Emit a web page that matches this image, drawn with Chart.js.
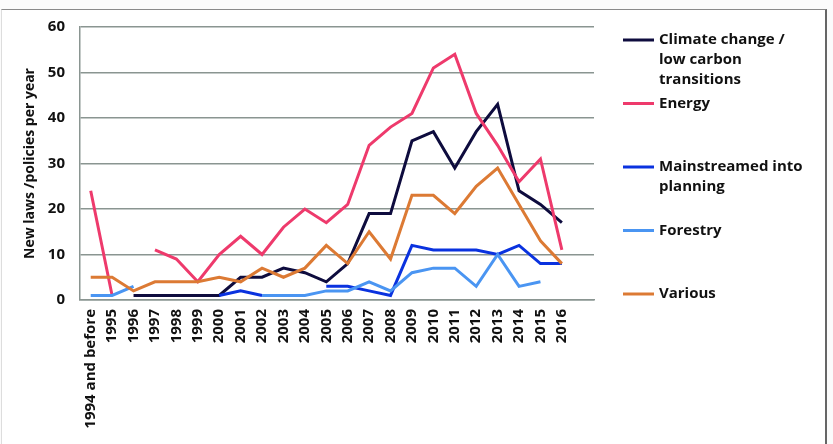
<!DOCTYPE html>
<html>
<head>
<meta charset="utf-8">
<script src="https://cdn.jsdelivr.net/npm/chart.js@4.4.1/dist/chart.umd.min.js"></script>
<style>
  html, body { margin: 0; padding: 0; background: #fbfbfb; }
  #wrap { position: relative; width: 833px; height: 444px; overflow: hidden; }
  #frame {
    position: absolute; left: 1px; top: 9px; width: 823px; height: 440px;
    background: #fff; border-top: 1px solid #8a8a8a; border-right: 2px solid #666;
    border-left: 1px solid #ddd;
  }
  #chart { position: absolute; left: 0; top: 0; }
</style>
</head>
<body>
<div id="wrap">
  <div id="frame"></div>
  <canvas id="chart" width="833" height="444"></canvas>
</div>
<script>
// categories (last one is an empty slot, as in the original axis)
const categories = ['1994 and before', '1995', '1996', '1997', '1998', '1999', '2000', '2001',
  '2002', '2003', '2004', '2005', '2006', '2007', '2008', '2009', '2010', '2011', '2012',
  '2013', '2014', '2015', '2016', ''];

const climateChange = [null, null, 1, 1, 1, 1, 1, 5, 5, 7, 6, 4, 8, 19, 19, 35, 37, 29, 37, 43, 24, 21, 17];
const energy        = [24, 1, null, 11, 9, 4, 10, 14, 10, 16, 20, 17, 21, 34, 38, 41, 51, 54, 41, 34, 26, 31, 11];
const mainstreamed  = [null, null, null, null, null, null, 1, 2, 1, null, null, 3, 3, 2, 1, 12, 11, 11, 11, 10, 12, 8, 8];
const forestry      = [1, 1, 3, null, null, null, null, null, 1, 1, 1, 2, 2, 4, 2, 6, 7, 7, 3, 10, 3, 4, null];
const various       = [5, 5, 2, 4, 4, 4, 5, 4, 7, 5, 7, 12, 8, 15, 9, 23, 23, 19, 25, 29, 21, 13, 8];

const seriesNames = [
  ['Climate change /', 'low carbon', 'transitions'],
  ['Energy'],
  ['Mainstreamed into', 'planning'],
  ['Forestry'],
  ['Various']
];
const seriesColors = ['#0e0c3e', '#ee3a6c', '#0a32df', '#4a95f2', '#dc7a34'];
const seriesData = [climateChange, energy, mainstreamed, forestry, various];

const yTicks = [0, 10, 20, 30, 40, 50, 60];

const FONT = '"Open Sans", Lato, sans-serif';

// legend drawn in the right margin, multi-line labels
const sideLegend = {
  id: 'sideLegend',
  afterDraw(chart) {
    const ctx = chart.ctx;
    const x0 = chart.chartArea.right + 29;
    ctx.save();
    ctx.font = 'bold 15px ' + FONT;
    ctx.textBaseline = 'middle';
    ctx.fillStyle = '#111';
    chart.data.datasets.forEach((ds, i) => {
      const y = 40 + i * 63.5;
      ctx.strokeStyle = ds.borderColor;
      ctx.lineWidth = 3;
      ctx.beginPath();
      ctx.moveTo(x0, y);
      ctx.lineTo(x0 + 31, y);
      ctx.stroke();
      seriesNames[i].forEach((line, j) => {
        ctx.fillText(line, x0 + 36, y + j * 20);
      });
    });
    ctx.restore();
  }
};

const datasets = seriesData.map((values, i) => ({
  label: seriesNames[i].join(' '),
  data: values,
  borderColor: seriesColors[i],
  backgroundColor: seriesColors[i],
  borderWidth: 3,
  pointRadius: 0,
  tension: 0,
  spanGaps: false,
  order: 4 - i
}));

new Chart(document.getElementById('chart'), {
  type: 'line',
  data: { labels: categories, datasets },
  options: {
    responsive: false,
    animation: false,
    layout: { padding: { left: 22, top: 27, right: 239, bottom: 4 } },
    plugins: {
      legend: { display: false },
      tooltip: { enabled: false }
    },
    scales: {
      x: {
        offset: true,
        grid: { display: false, drawTicks: false },
        border: { color: '#8a9591', width: 1.5 },
        ticks: {
          autoSkip: false,
          minRotation: 90,
          maxRotation: 90,
          padding: 9,
          color: '#111',
          font: { family: FONT, size: 15, weight: 'bold' }
        },
        afterFit(scale) { scale.height = 140; }
      },
      y: {
        min: 0,
        max: 60,
        afterBuildTicks(scale) { scale.ticks = yTicks.map(v => ({ value: v })); },
        grid: { color: '#8a9591', lineWidth: 1.5, drawTicks: false },
        border: { color: '#8a9591', width: 1.5 },
        ticks: {
          padding: 15,
          color: '#111',
          font: { family: FONT, size: 15, weight: 'bold' }
        },
        title: {
          display: true,
          text: 'New laws /policies per year',
          color: '#111',
          padding: 0,
          font: { family: FONT, size: 14, weight: 'bold' }
        },
        afterFit(scale) { scale.width = 58; }
      }
    }
  },
  plugins: [sideLegend]
});
</script>
</body>
</html>
